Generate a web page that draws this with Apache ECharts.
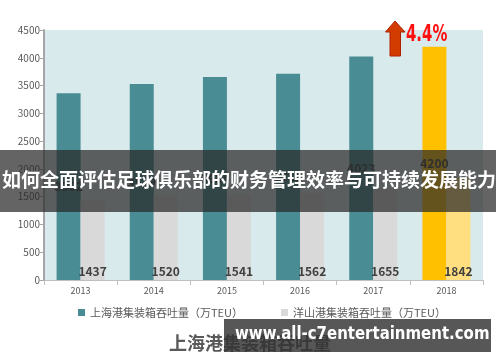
<!DOCTYPE html>
<html><head><meta charset="utf-8">
<script src="https://cdn.jsdelivr.net/npm/echarts@6/dist/echarts.min.js"></script>
<style>html,body{margin:0;padding:0;background:#fff}#c{width:500px;height:362px}</style>
</head><body><div id="c"></div>
<script>
const years = ['2013','2014','2015','2016','2017','2018'];
const shanghai = [3362, 3529, 3654, 3713, 4023, 4200];
const yangshan = [1437, 1520, 1541, 1562, 1655, 1842];
const yTicks = [0, 500, 1000, 1500, 2000, 2500, 3000, 3500, 4000, 4500];
const legendNames = ['上海港集装箱吞吐量（万TEU）', '洋山港集装箱吞吐量（万TEU）'];
const chartTitle = '上海港集装箱吞吐量';
const bannerText = '如何全面评估足球俱乐部的财务管理效率与可持续发展能力';
const watermark = 'www.all-c7entertainment.com';
const growthText = '4.4%';

const FONT = '"Noto Sans CJK SC", "Noto Sans", sans-serif';
const chart = echarts.init(document.getElementById('c'));
const lastIdx = years.length - 1;
chart.setOption({
  animation: false,
  textStyle: { fontFamily: FONT },
  title: {
    text: chartTitle, left: 'center', top: 329,
    textStyle: { fontSize: 18, fontWeight: 'bold', color: '#595959', fontFamily: FONT }
  },
  legend: {
    top: 302, left: 73, itemWidth: 7, itemHeight: 7, itemGap: 38,
    icon: 'rect',
    textStyle: { fontSize: 11, color: '#595959', fontFamily: FONT },
    data: legendNames
  },
  grid: { left: 44, right: 17, top: 30, bottom: 82, show: true, backgroundColor: '#D9EAED', borderWidth: 0 },
  xAxis: {
    type: 'category', data: years,
    axisLine: { lineStyle: { color: '#BFBFBF' } },
    axisTick: { show: true, lineStyle: { color: '#BFBFBF' } },
    axisLabel: { fontSize: 9, color: '#595959', margin: 6 }
  },
  yAxis: {
    type: 'value', min: yTicks[0], max: yTicks[yTicks.length - 1], interval: 500,
    axisLine: { show: true, lineStyle: { color: '#A6A6A6', width: 2 } },
    axisTick: { show: true, length: 4, lineStyle: { color: '#A6A6A6' } },
    splitLine: { show: false },
    axisLabel: { fontSize: 10, color: '#595959', margin: 4, formatter: v => String(v) }
  },
  series: [
    {
      name: legendNames[0], type: 'bar', barWidth: 24, barGap: '0%',
      itemStyle: { color: '#4A8C93' },
      data: shanghai.map((v, i) => i === lastIdx ? { value: v, itemStyle: { color: '#FFC000' } } : v),
      label: { show: true, position: 'inside', fontSize: 12, fontWeight: 'bold', color: '#404040' }
    },
    {
      name: legendNames[1], type: 'bar', barWidth: 24,
      itemStyle: { color: '#D9D9D9' },
      data: yangshan.map((v, i) => i === lastIdx ? { value: v, itemStyle: { color: '#FFDF7F' } } : v),
      label: { show: true, position: 'insideBottom', distance: 3, fontSize: 12, fontWeight: 'bold', color: '#404040' }
    }
  ],
  graphic: [
    { type: 'polygon', z: 100,
      shape: { points: [[395,21],[405,32],[400.5,32],[400.5,56],[390,56],[390,32],[385.5,32]] },
      style: { fill: '#D23C00', stroke: '#B02000', lineWidth: 1 } },
    { type: 'text', z: 100, x: 406, y: 24, scaleX: 0.72,
      style: { text: growthText, fill: '#FF1010', fontSize: 23, fontWeight: 'bold',
               fontFamily: '"DejaVu Sans Condensed", "DejaVu Sans", sans-serif' } },
    { type: 'rect', z: 200, shape: { x: 0, y: 150, width: 496, height: 62 },
      style: { fill: 'rgba(40,40,40,0.72)' } },
    { type: 'text', z: 201, left: 2, top: 170,
      style: { text: bannerText, fill: '#ffffff', fontSize: 19, fontWeight: 'bold', fontFamily: FONT } },
    { type: 'rect', z: 200, shape: { x: 224, y: 319, width: 267, height: 33 },
      style: { fill: 'rgba(50,50,50,0.82)' } },
    { type: 'text', z: 201, x: 235, y: 326, scaleX: 0.88,
      style: { text: watermark, fill: '#ffffff', fontSize: 17, fontWeight: 'bold', fontFamily: '"DejaVu Sans", sans-serif' } }
  ]
});
</script></body></html>
